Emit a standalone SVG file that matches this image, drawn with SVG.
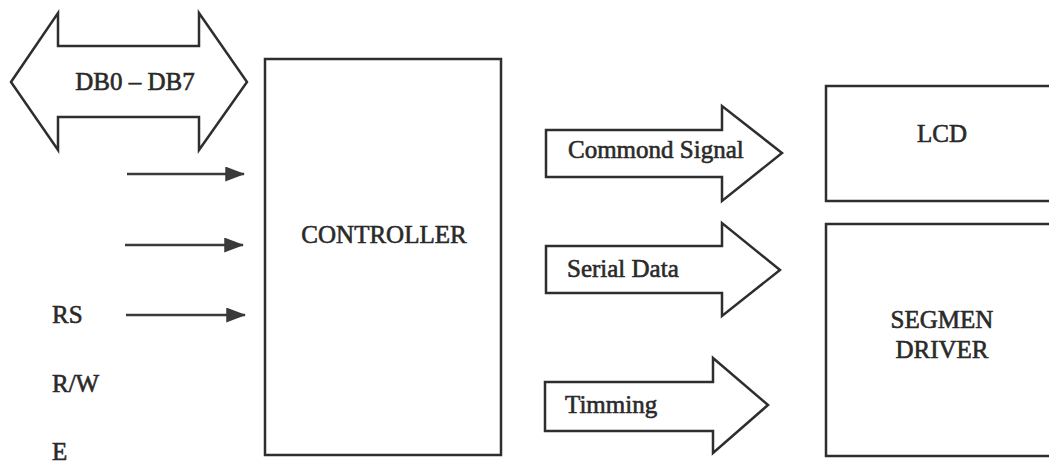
<svg xmlns="http://www.w3.org/2000/svg" width="1049" height="464" viewBox="0 0 1049 464">
  <style>
    .shape { fill: #ffffff; stroke: #2e2e2e; stroke-width: 2.5; stroke-linejoin: miter; }
    .lbl { font-size: 25px; fill: #2a2a2a; stroke: #2a2a2a; stroke-width: 0.6; }
    .wire { stroke: #3a3a3a; stroke-width: 2.5; fill: none; }
  </style>
  <defs>
    <marker id="head" markerWidth="8" markerHeight="6" refX="7.5" refY="3" orient="auto" markerUnits="strokeWidth">
      <path d="M0,0 L8,3 L0,6 Z" fill="#3a3a3a"/>
    </marker>
  </defs>
  <rect x="0" y="0" width="1049" height="464" fill="#ffffff"/>

  <g font-family="Liberation Serif, Times New Roman, serif">
    <g id="databus">
      <polygon class="shape" points="11,82 58,13 58,46 199,46 199,13 247,82 199,150 199,117 58,117 58,150"/>
      <text class="lbl" x="135" y="90" text-anchor="middle">DB0 – DB7</text>
    </g>

    <g id="controller">
      <rect class="shape" x="265" y="59" width="236" height="396"/>
      <text class="lbl" x="384" y="243" text-anchor="middle">CONTROLLER</text>
    </g>

    <g id="lcd">
      <rect class="shape" x="826" y="86" width="260" height="115"/>
      <text class="lbl" x="942" y="142" text-anchor="middle">LCD</text>
    </g>

    <g id="segmen-driver">
      <rect class="shape" x="826" y="224" width="260" height="232"/>
      <text class="lbl" x="942" y="328" text-anchor="middle">SEGMEN</text>
      <text class="lbl" x="942" y="358" text-anchor="middle">DRIVER</text>
    </g>

    <g id="signal-labels">
      <text class="lbl" x="52" y="323">RS</text>
      <text class="lbl" x="52" y="392">R/W</text>
      <text class="lbl" x="52" y="460">E</text>
    </g>

    <g id="connectors">
      <line class="wire" x1="127" y1="174" x2="244" y2="174" marker-end="url(#head)"/>
      <line class="wire" x1="125" y1="245" x2="243" y2="245" marker-end="url(#head)"/>
      <line class="wire" x1="126" y1="315" x2="245" y2="315" marker-end="url(#head)"/>

      <g id="commond-signal">
        <polygon class="shape" points="546,130 722,130 722,106 782,153 722,201 722,177 546,177"/>
        <text class="lbl" x="568" y="158" font-size="23">Commond Signal</text>
      </g>
      <g id="serial-data">
        <polygon class="shape" points="546,246 722,246 722,223 780,270 722,316 722,293 546,293"/>
        <text class="lbl" x="567" y="277" font-size="23">Serial Data</text>
      </g>
      <g id="timming">
        <polygon class="shape" points="545,382 713,382 713,358 768,405 713,453 713,431 545,431"/>
        <text class="lbl" x="565" y="413" font-size="23">Timming</text>
      </g>
    </g>
  </g>
</svg>
